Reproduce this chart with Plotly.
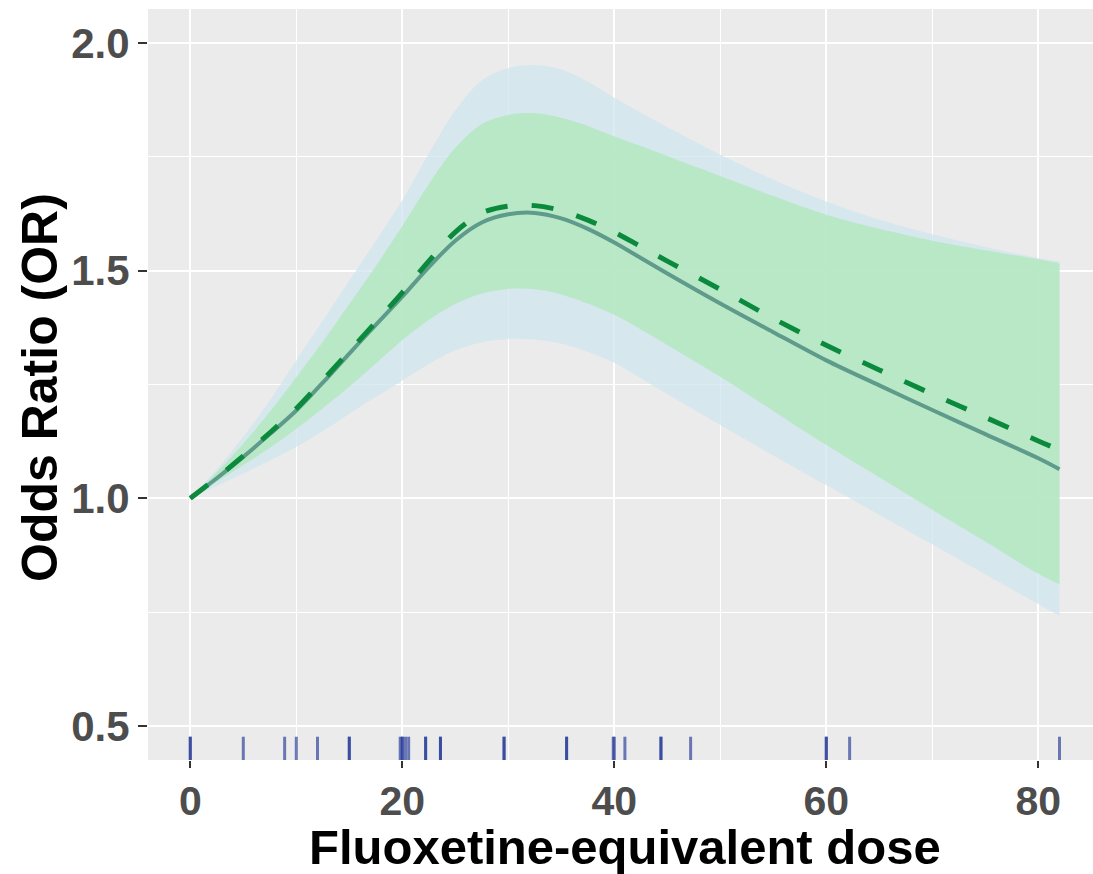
import plotly.graph_objects as go

# ---- data ----
dose = [0, 2.5, 5, 7.5, 10, 12.5, 15, 17.5, 20, 22.5, 25, 27.5, 30, 32.5, 35, 37.5, 40,
        42.5, 45, 50, 55, 60, 65, 70, 75, 80, 82]

or_solid = [1.0, 1.044, 1.091, 1.141, 1.193, 1.254, 1.318, 1.381, 1.443, 1.508, 1.566,
            1.606, 1.624, 1.627, 1.615, 1.592, 1.562, 1.528, 1.494, 1.428, 1.365, 1.303,
            1.248, 1.194, 1.141, 1.088, 1.064]
or_dashed = [1.0, 1.045, 1.093, 1.144, 1.197, 1.259, 1.323, 1.387, 1.452, 1.521, 1.585,
             1.627, 1.642, 1.643, 1.632, 1.611, 1.585, 1.553, 1.521, 1.459, 1.395, 1.336,
             1.282, 1.229, 1.178, 1.126, 1.106]

blue_upper = [1.0, 1.063, 1.135, 1.215, 1.303, 1.390, 1.478, 1.565, 1.655, 1.757, 1.852,
              1.918, 1.945, 1.952, 1.942, 1.915, 1.880, 1.847, 1.815, 1.755, 1.700, 1.652,
              1.612, 1.580, 1.552, 1.528, 1.520]
blue_lower = [1.0, 1.027, 1.055, 1.083, 1.113, 1.148, 1.186, 1.223, 1.259, 1.295, 1.325,
              1.343, 1.350, 1.349, 1.340, 1.322, 1.298, 1.264, 1.229, 1.161, 1.094, 1.029,
              0.964, 0.899, 0.833, 0.768, 0.742]
green_upper = [1.0, 1.057, 1.120, 1.190, 1.266, 1.344, 1.427, 1.510, 1.598, 1.690, 1.770,
               1.822, 1.842, 1.846, 1.836, 1.818, 1.795, 1.774, 1.752, 1.708, 1.664, 1.623,
               1.592, 1.566, 1.545, 1.525, 1.516]
green_lower = [1.0, 1.036, 1.073, 1.111, 1.153, 1.198, 1.245, 1.296, 1.347, 1.392, 1.427,
               1.450, 1.460, 1.459, 1.448, 1.428, 1.403, 1.371, 1.337, 1.267, 1.192, 1.117,
               1.046, 0.975, 0.905, 0.834, 0.811]

rug_doses = [0, 0, 5, 8.9, 10, 12, 15, 15, 19.8, 20, 20, 20.3, 20.6, 22.2, 22.2, 23.6, 23.6,
             29.6, 29.6, 35.5, 35.5, 39.9, 40, 41, 44.4, 44.4, 47.2, 60, 60, 62.2, 82]

x_ticks = [0, 20, 40, 60, 80]
y_ticks = [0.5, 1.0, 1.5, 2.0]
y_tick_labels = ["0.5", "1.0", "1.5", "2.0"]

x_title = "Fluoxetine-equivalent dose"
y_title = "Odds Ratio (OR)"

# ---- figure ----
FONT = "Liberation Sans, Arial, Helvetica, sans-serif"
SPL = dict(shape="spline", smoothing=0.9)
fig = go.Figure()

fig.add_trace(go.Scatter(x=dose, y=blue_lower, mode="lines",
                         line=dict(width=0, **SPL), showlegend=False, hoverinfo="skip"))
fig.add_trace(go.Scatter(x=dose, y=blue_upper, mode="lines", fill="tonexty",
                         fillcolor="rgba(205,228,239,0.72)",
                         line=dict(width=0, **SPL), showlegend=False, hoverinfo="skip"))
fig.add_trace(go.Scatter(x=dose, y=green_lower, mode="lines",
                         line=dict(width=0, **SPL), showlegend=False, hoverinfo="skip"))
fig.add_trace(go.Scatter(x=dose, y=green_upper, mode="lines", fill="tonexty",
                         fillcolor="rgba(178,232,190,0.82)",
                         line=dict(width=0, **SPL), showlegend=False, hoverinfo="skip"))
fig.add_trace(go.Scatter(x=dose, y=or_solid, mode="lines",
                         line=dict(color="#5E9B8B", width=4, **SPL), showlegend=False))
fig.add_trace(go.Scatter(x=dose, y=or_dashed, mode="lines",
                         line=dict(color="#0B8A3E", width=5, dash="22px,24px", **SPL),
                         showlegend=False))

for d in rug_doses:
    fig.add_shape(type="line", xref="x", yref="y domain", x0=d, x1=d, y0=0, y1=0.031,
                  line=dict(color="rgba(35,55,150,0.65)", width=3))

fig.update_layout(
    width=1093, height=874,
    margin=dict(l=148, r=0, t=9, b=114, autoexpand=False),
    paper_bgcolor="white", plot_bgcolor="#EBEBEB",
    font=dict(family=FONT),
    showlegend=False,
)

fig.update_xaxes(
    range=[-3.99, 85.16], tickvals=x_ticks, ticktext=[str(v) for v in x_ticks],
    showgrid=True, gridcolor="white", gridwidth=2.4,
    minor=dict(dtick=10, tick0=0, showgrid=True, gridcolor="white", gridwidth=1.2, ticks=""),
    ticks="outside", ticklen=7, tickwidth=2, tickcolor="#333333",
    tickfont=dict(size=41, color="#4D4D4D", family=FONT, weight="bold"),
    zeroline=False, showline=False, ticklabelstandoff=-2, automargin=False,
)
fig.update_yaxes(
    range=[0.425, 2.075], tickvals=y_ticks, ticktext=y_tick_labels,
    showgrid=True, gridcolor="white", gridwidth=2.4,
    minor=dict(dtick=0.25, tick0=0.5, showgrid=True, gridcolor="white", gridwidth=1.2, ticks=""),
    ticks="outside", ticklen=9, tickwidth=2, tickcolor="#333333",
    tickfont=dict(size=42, color="#4D4D4D", family=FONT, weight="bold"),
    zeroline=False, showline=False, ticklabelstandoff=0, automargin=False,
)

fig.add_annotation(text=x_title, xref="paper", yref="paper", x=(625 - 148) / 945, y=0,
                   xanchor="center", yanchor="middle", yshift=-87, showarrow=False,
                   font=dict(size=49, color="black", family=FONT, weight="bold"))
fig.add_annotation(text=y_title, xref="paper", yref="paper", x=0, y=1 - (388 - 9) / 751,
                   xanchor="center", yanchor="middle", xshift=-108, textangle=-90,
                   showarrow=False,
                   font=dict(size=50, color="black", family=FONT, weight="bold"))

fig.write_html(
    "out.html",
    config={"displayModeBar": False},
    post_script="document.body.style.margin='0';document.body.style.overflow='hidden';",
)
